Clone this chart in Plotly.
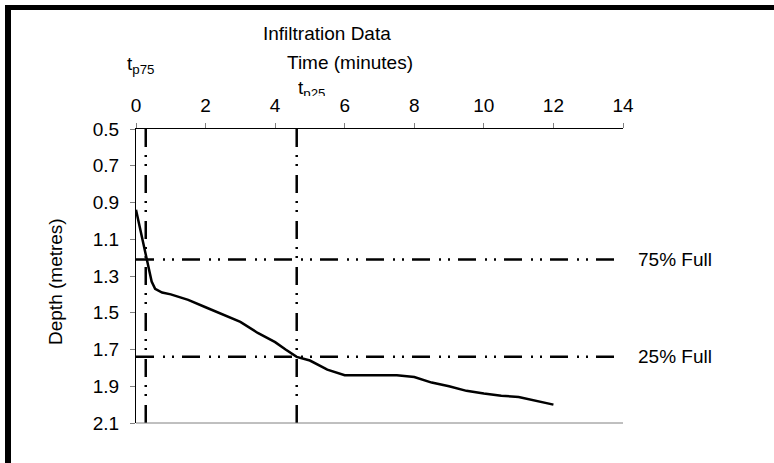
import plotly.graph_objects as go

# Infiltration test readings
time_min = [0, 0.45, 0.55, 0.75, 1.0, 1.5, 2.0, 2.5, 3.0, 3.5, 4.0, 4.3, 4.62, 5.0,
            5.5, 6.0, 6.5, 7.0, 7.5, 8.0, 8.5, 9.0, 9.5, 10.0, 10.5, 11.0, 11.5, 12.0]
depth_m = [0.94, 1.33, 1.37, 1.39, 1.40, 1.43, 1.47, 1.51, 1.55, 1.61, 1.66, 1.70, 1.74, 1.76,
           1.81, 1.84, 1.84, 1.84, 1.84, 1.85, 1.88, 1.90, 1.925, 1.94, 1.952, 1.958, 1.978, 2.00]

# Reference levels and the times the curve reaches them
level_labels = ["75% Full", "25% Full"]
level_depths = [1.21, 1.74]
tp_labels = ["t<sub>p75</sub>", "t<sub>p25</sub>"]
tp_times = [0.28, 4.62]

x_range = [0, 14]
y_range = [2.1, 0.5]

FONT = "Liberation Sans, Arial, sans-serif"
FS = 19
DASH = "18px,9px,2px,7px,2px,8px"

fig = go.Figure()

for d in level_depths:
    fig.add_trace(go.Scatter(x=x_range, y=[d, d], mode="lines",
                             line=dict(color="black", width=2.5, dash=DASH),
                             hoverinfo="skip", showlegend=False, cliponaxis=False))
for t in tp_times:
    fig.add_trace(go.Scatter(x=[t, t], y=[y_range[0], y_range[1]], mode="lines",
                             line=dict(color="black", width=2.5, dash=DASH),
                             hoverinfo="skip", showlegend=False))

fig.add_trace(go.Scatter(x=time_min, y=depth_m, mode="lines",
                         line=dict(color="black", width=2.5),
                         showlegend=False))

L, R, T, B = 136, 151, 129, 40
W, H = 774, 463
pw, ph = W - L - R, H - T - B


def px_x(px):
    return (px - L) / pw


def px_y(py):
    return (H - B - py) / ph


anns = []
anns.append(dict(text="Infiltration Data", x=px_x(327), y=px_y(34)))
anns.append(dict(text="Time (minutes)", x=px_x(350), y=px_y(63)))
anns.append(dict(text="Depth (metres)", x=px_x(55), y=px_y(282), textangle=-90))
for lbl, d in zip(level_labels, level_depths):
    anns.append(dict(text=lbl, x=14, xref="x", y=d, yref="y", xanchor="left", xshift=13))
anns.append(dict(text=tp_labels[0], x=px_x(140), y=px_y(65)))
# the lower part of this label is hidden behind the tick labels
anns.append(dict(text=tp_labels[1], x=px_x(311), y=px_y(76), yanchor="top",
                 height=19, valign="top", borderpad=0))

for a in anns:
    a.setdefault("xref", "paper")
    a.setdefault("yref", "paper")
    a.setdefault("xanchor", "center")
    a.setdefault("yanchor", "middle")
    a["showarrow"] = False
    a["font"] = dict(family=FONT, size=FS, color="black")

shapes = [
    # outer frame (top and left edges)
    dict(type="line", xref="paper", yref="paper", x0=px_x(8), x1=px_x(790), y0=px_y(7.5), y1=px_y(7.5),
         line=dict(color="black", width=5)),
    dict(type="line", xref="paper", yref="paper", x0=px_x(8), x1=px_x(8), y0=px_y(5), y1=px_y(480),
         line=dict(color="black", width=6)),
    # bottom edge of the plot area
    dict(type="line", xref="paper", yref="paper", x0=0, x1=1, y0=0, y1=0,
         line=dict(color="#808080", width=1)),
]

fig.update_layout(
    width=W, height=H,
    margin=dict(l=L, r=R, t=T, b=B),
    paper_bgcolor="white", plot_bgcolor="white",
    font=dict(family=FONT, size=FS, color="black"),
    xaxis=dict(range=x_range, side="top", dtick=2, tick0=0, ticks="outside", ticklen=5,
               tickcolor="#808080", showline=True, linecolor="black", linewidth=1,
               showgrid=False, zeroline=False, tickfont=dict(size=FS), ticklabelstandoff=3),
    yaxis=dict(range=y_range, dtick=0.2, tick0=0.5, tickformat=".1f", ticks="outside", ticklen=5,
               tickcolor="#808080", showline=True, linecolor="black", linewidth=1,
               showgrid=False, zeroline=False, tickfont=dict(size=FS), ticklabelstandoff=7),
    annotations=anns,
    shapes=shapes,
)

fig.write_html("out.html")
